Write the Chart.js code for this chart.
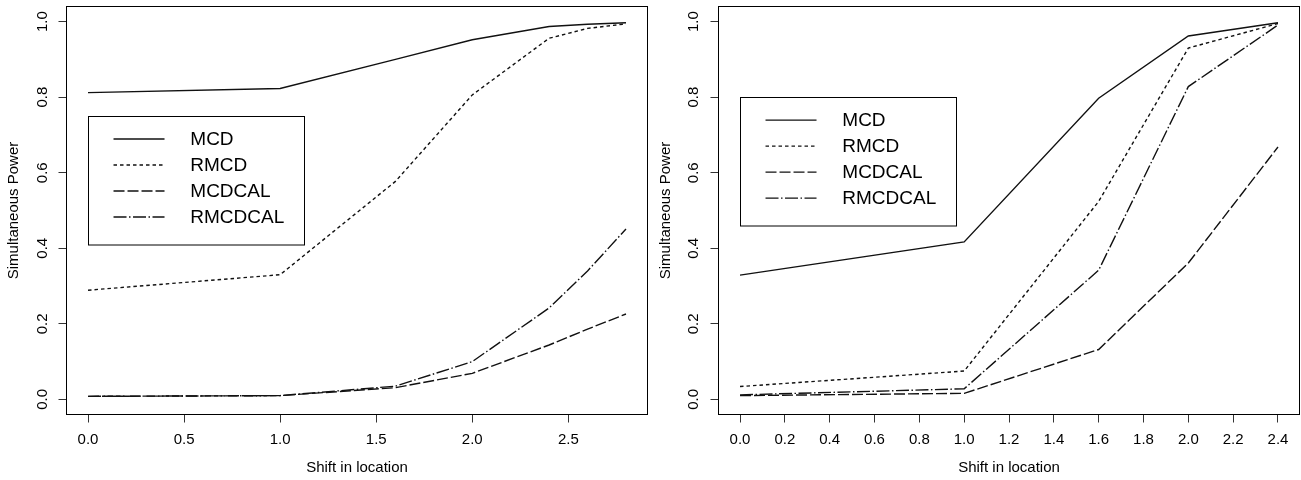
<!DOCTYPE html>
<html>
<head>
<meta charset="utf-8">
<script src="https://cdn.jsdelivr.net/npm/chart.js@4/dist/chart.umd.min.js"></script>
<style>
  html, body { margin: 0; padding: 0; background: #fff; }
  #wrap { position: relative; width: 1301px; height: 480px; overflow: hidden; background: #fff; }
  canvas { position: absolute; top: 0; }
</style>
</head>
<body>
<div id="wrap">
  <canvas id="c1" width="650" height="480" style="left:0px"></canvas>
  <canvas id="c2" width="649" height="480" style="left:652px"></canvas>
</div>
<script>
// ---------- data ----------
const seriesNames = ['MCD', 'RMCD', 'MCDCAL', 'RMCDCAL'];

const leftShift   = [0, 1.0, 1.6, 2.0, 2.4, 2.6, 2.8];
const leftMCD     = [0.812, 0.823, 0.900, 0.952, 0.987, 0.993, 0.997];
const leftRMCD    = [0.289, 0.330, 0.577, 0.806, 0.956, 0.982, 0.994];
const leftMCDCAL  = [0.008, 0.010, 0.031, 0.069, 0.144, 0.186, 0.226];
const leftRMCDCAL = [0.008, 0.010, 0.035, 0.100, 0.242, 0.340, 0.451];

const rightShift   = [0, 1.0, 1.6, 2.0, 2.4];
const rightMCD     = [0.329, 0.417, 0.797, 0.962, 0.997];
const rightRMCD    = [0.034, 0.075, 0.524, 0.930, 0.995];
const rightMCDCAL  = [0.010, 0.016, 0.132, 0.361, 0.668];
const rightRMCDCAL = [0.012, 0.028, 0.342, 0.828, 0.991];

const leftXTicks  = [0, 0.5, 1.0, 1.5, 2.0, 2.5];
const rightXTicks = [0, 0.2, 0.4, 0.6, 0.8, 1.0, 1.2, 1.4, 1.6, 1.8, 2.0, 2.2, 2.4];
const yTicks      = [0, 0.2, 0.4, 0.6, 0.8, 1.0];

const xTitle = 'Shift in location';
const yTitle = 'Simultaneous Power';

// legend anchor (top-left corner, in data units)
const leftLegendAt  = [0, 0.75];
const rightLegendAt = [0, 0.80];

// ---------- styling ----------
const FONT = '"Liberation Sans", Arial, Helvetica, sans-serif';
const dashes = [[], [3.5, 3], [11, 3], [13, 2.5, 1.5, 2.5]];
const LINE_COLOR = '#111';

function makeDatasets(xs, ys) {
  return ys.map((arr, i) => ({
    label: seriesNames[i],
    data: arr.map((v, j) => ({ x: xs[j], y: v })),
    borderColor: LINE_COLOR,
    borderWidth: 1.4,
    borderDash: dashes[i],
    pointRadius: 0,
    fill: false,
    tension: 0
  }));
}

const framePlugin = {
  id: 'rframe',
  afterDraw(chart, args, opts) {
    const ctx = chart.ctx;
    const ca = chart.chartArea;
    const ys = chart.scales.y;
    const xs = chart.scales.x;
    ctx.save();
    // box around plot region
    ctx.strokeStyle = '#000';
    ctx.lineWidth = 1;
    ctx.setLineDash([]);
    ctx.strokeRect(ca.left, ca.top, ca.right - ca.left, ca.bottom - ca.top);

    // rotated y tick labels (R style, parallel to axis)
    ctx.fillStyle = '#000';
    ctx.font = '15px ' + FONT;
    ctx.textAlign = 'center';
    ctx.textBaseline = 'middle';
    ys.ticks.forEach(t => {
      const py = ys.getPixelForValue(t.value);
      ctx.save();
      ctx.translate(ca.left - opts.yLabelOffset, py);
      ctx.rotate(-Math.PI / 2);
      ctx.fillText(t.value.toFixed(1), 0, 0);
      ctx.restore();
    });

    // legend
    const bx = xs.getPixelForValue(opts.legendAt[0]);
    const by = ys.getPixelForValue(opts.legendAt[1]);
    const bw = 216, bh = 128.5;
    ctx.strokeStyle = '#000';
    ctx.lineWidth = 1;
    ctx.strokeRect(Math.round(bx) + 0.5, Math.round(by) + 0.5, bw, bh);
    ctx.font = '19px ' + FONT;
    ctx.textAlign = 'left';
    ctx.textBaseline = 'middle';
    chart.data.datasets.forEach((ds, i) => {
      const ry = by + 23 + i * 26;
      ctx.beginPath();
      ctx.setLineDash(ds.borderDash);
      ctx.lineWidth = ds.borderWidth;
      ctx.strokeStyle = ds.borderColor;
      ctx.moveTo(bx + 25.5, ry);
      ctx.lineTo(bx + 76.5, ry);
      ctx.stroke();
      ctx.setLineDash([]);
      ctx.fillStyle = '#000';
      ctx.fillText(ds.label, bx + 102.3, ry + 0.5);
    });
    ctx.restore();
  }
};

function makeChart(canvasId, xs, ys, xTicks, xMin, xMax, padRight, legendAt, yLabelOffset) {
  return new Chart(document.getElementById(canvasId), {
    type: 'line',
    data: { datasets: makeDatasets(xs, ys) },
    options: {
      responsive: false,
      animation: false,
      devicePixelRatio: 1,
      layout: { padding: { top: 6.5, right: padRight, left: 0, bottom: 0 } },
      plugins: {
        legend: { display: false },
        tooltip: { enabled: false },
        rframe: { legendAt: legendAt, yLabelOffset: yLabelOffset }
      },
      scales: {
        x: {
          type: 'linear',
          min: xMin,
          max: xMax,
          afterBuildTicks: (s) => { s.ticks = xTicks.map(v => ({ value: v })); },
          afterFit: (s) => { s.height = 65.5; },
          grid: { display: true, drawOnChartArea: false, drawTicks: true, tickLength: 8, color: '#333', lineWidth: 1 },
          border: { display: false },
          ticks: {
            color: '#000',
            font: { family: FONT, size: 15 },
            padding: 8,
            maxRotation: 0,
            minRotation: 0,
            autoSkip: false,
            callback: (v) => Number(v).toFixed(1)
          },
          title: {
            display: true,
            text: xTitle,
            color: '#000',
            font: { family: FONT, size: 15 },
            padding: { top: 0, bottom: 3 }
          }
        },
        y: {
          type: 'linear',
          min: -0.04,
          max: 1.04,
          afterBuildTicks: (s) => { s.ticks = yTicks.map(v => ({ value: v })); },
          afterFit: (s) => { s.width = 66.5; },
          grid: { display: true, drawOnChartArea: false, drawTicks: true, tickLength: 8, color: '#333', lineWidth: 1 },
          border: { display: false },
          ticks: { display: false },
          title: {
            display: true,
            text: yTitle,
            color: '#000',
            font: { family: FONT, size: 15 },
            padding: { top: 5, bottom: 0 }
          }
        }
      }
    },
    plugins: [framePlugin]
  });
}

makeChart('c1', leftShift, [leftMCD, leftRMCD, leftMCDCAL, leftRMCDCAL],
          leftXTicks, -0.112, 2.912, 2.5, leftLegendAt, 23.5);
makeChart('c2', rightShift, [rightMCD, rightRMCD, rightMCDCAL, rightRMCDCAL],
          rightXTicks, -0.096, 2.496, 1.5, rightLegendAt, 25);
</script>
</body>
</html>
